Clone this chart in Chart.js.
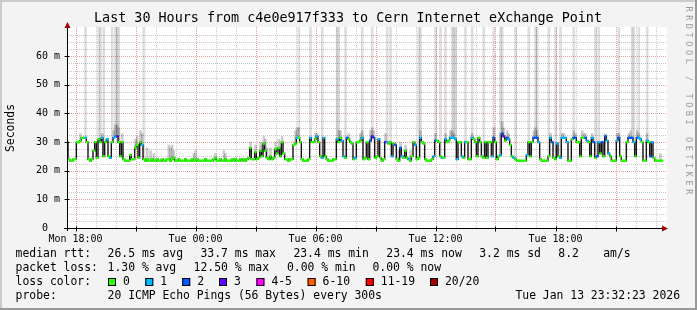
<!DOCTYPE html>
<html>
<head>
<meta charset="utf-8">
<script src="https://cdn.jsdelivr.net/npm/chart.js@4.4.1/dist/chart.umd.min.js"></script>
<style>
  html, body { margin: 0; padding: 0; background: #f3f3f3; }
  canvas { display: block; }
</style>
</head>
<body>
<canvas id="smokeChart" width="697" height="310"></canvas>
<script>
// median rtt (ms) for every 5 minute step, from Mon 17:35 onwards
const median = [
  30,24,23.5,23.5,24,24,30,30,30.5,31.5, 31.5,31.5,30,24,23.5,24,27,30,24.5,31, 30,31.5,25,30,31,25,24.5,30,31.5,32,
  32,30,25,30,24,23.5,23.5,23.5,25.5,24, 24,28,29,24.5,30,29,24,23.5,24,23.5, 23.5,24,23.5,23.5,24,23.5,23.5,24,23.5,23.5,
  24,24,23.5,24,24.5,23.5,23.5,24,23.5,23.5, 23.5,24,23.5,23.5,23.5,24,23.5,23.5,24,23.5, 23.5,23.5,23.5,24,23.5,23.5,23.5,23.5,24,24.5,
  23.5,23.5,24,23.5,23.5,24,23.5,23.5,23.5,24, 23.5,24,23.5,23.5,24,23.5,24,23.5,24,24.5, 28,24,24,26.5,24,24.5,27,25,29.5,27,
  24.5,24,25,24,24.5,27.5,26,28,25,30, 26,24,24,23.5,24,24,29,29.5,31.5,31.5, 30,24,23.5,23.5,23.5,24,31.5,30,30,31,
  32,30,25,24.5,31.5,25,24,23.5,23.5,23.5, 24,24,31,30,31.5,30.5,25,24.5,31.5,31, 30,29.5,24,24.5,30,30,30.5,31.5,24,24.5,
  30,24,30.5,32,31.5,24.5,25,31,24.5,23.5, 24,30,30,29.5,30,25,29.5,29,24,23.5, 28,25,24.5,27,24.5,24,23.5,25,30,29,
  24,24.5,31.5,30,29.5,24,23.5,23.5,23.5,24, 25,30.5,30.5,30,25,24.5,24.5,31,30,30.5, 31.5,31.5,31.5,31,24,30,30,25,24.5,30,
  30,24,24,31.5,31,30,25,31.5,30,25, 24.5,30,24.5,30,30,25,31.5,30,24,25, 25.5,33,32,30.5,31.5,31,29,25,24.5,24,
  23.5,23.5,23.5,23.5,23.5,23.5,25.5,30,25,30, 31.5,31.5,31.5,30,24,23.5,23.5,23.5,23.5,25, 31.5,30,24.5,24,29.5,25,24.5,31.5,31.5,31.5,
  30,23.5,23.5,31,31.5,31.5,30,30,25,31.5, 31.5,31.5,30.5,30,25,31.5,30,24.5,25,30, 26,30,25,32,30.5,26,25,23.5,23.5,23.5,
  30.5,31.5,25,23.5,23.5,23.5,30,31.5,31.5,31.5, 30,25,31.5,31.5,31,30,23.5,23.5,30.5,30, 25,30,24.5,23.5,23.5,23.5,23.5,23.5,null,null
];

// lost pings (of 20) for every step
const lostPings = [
  0,0,0,0,0,0,0,0,0,0, 0,1,0,0,0,0,0,0,0,0, 0,1,0,0,1,0,1,0,1,1,
  3,0,0,0,0,0,0,0,0,0, 0,0,0,0,0,1,0,0,0,0, 0,0,0,0,0,0,0,0,0,0,
  0,0,0,0,0,0,0,0,0,0, 0,0,0,0,0,0,0,0,0,0, 0,0,0,0,0,0,0,0,0,0,
  0,0,0,0,0,0,0,0,0,0, 0,0,0,0,0,0,0,0,0,0, 0,0,0,0,0,0,0,0,0,0,
  0,0,0,0,0,0,0,0,0,0, 0,0,0,0,0,0,0,0,1,0, 0,0,0,0,0,0,1,0,0,0,
  1,0,0,1,1,0,0,0,0,0, 0,0,1,0,0,1,1,0,2,0, 0,0,0,1,0,0,0,1,0,0,
  0,0,2,3,2,0,0,1,0,0, 0,3,1,0,0,1,0,2,0,0, 2,1,0,0,0,1,0,0,0,1,
  0,0,1,0,0,0,0,0,0,0, 1,2,0,0,0,1,0,1,0,0, 1,1,1,1,1,0,0,1,0,1,
  0,0,0,1,0,0,0,0,0,0, 0,0,0,0,0,1,2,0,0,0, 1,2,3,0,2,1,0,0,1,0,
  0,0,0,0,0,0,1,0,0,0, 2,2,2,1,0,0,0,0,0,0, 1,2,0,0,1,0,1,1,1,1,
  1,0,0,0,2,2,0,0,0,0, 0,2,1,0,0,1,2,0,2,1, 0,2,0,2,1,1,0,0,0,0,
  1,2,0,0,0,0,0,2,2,2, 1,0,2,1,1,0,0,0,1,0, 2,1,0,0,0,0,0,0,0,0
];

// steps where single pings went off the scale (light smoke)
const spikeAt = [11,19,20,22,27,29,30,31,46,139,146,153,162,163,167,177,183,192,194,211,212,221,224,227,
  231,232,233,239,243,250,256,260,261,269,277,281,282,289,293,296,304,317,319,331,339,340,343,348];
const spikeTop = [75,75,75,75,75,75,75,75,75,75,75,75,75,75,75,75,75,75,75,75,75,75,75,75,
  75,75,75,75,75,75,75,75,75,75,75,75,75,75,75,75,75,75,75,75,75,75,75,75];

// steps with denser smoke just above the median
const smokeAt = [8,21,28,29,30,31,33,41,42,44,45,48,50,52,61,62,63,64,76,77,89,94,95,110,113,116,117,118,119,
  120,122,125,127,129,137,138,139,149,150,163,164,169,176,177,182,183,184,191,199,200,203,206,212,221,227,230,231,232,
  243,256,260,261,262,264,265,280,281,282,290,297,298,304,305,309,310,311,315,320,323,330,331,337,338,342,343,348,356];
const smokeTop = [33,33,34,36,36,35,33,31,32,34,33,28,27,26,29,28,29,27,26,27,26,27,26,30,29,30,29,32,31,
  28,28,30,31,32,34,35,35,33,33,34,34,33,33,34,34,35,34,33,27,30,29,27,34,33,33,34,34,33,
  33,35,33,37,35,34,33,34,35,34,33,33,33,34,33,34,33,33,33,29,33,33,33,33,34,34,33,33,26];

const tickValues = [1080, 1440, 1800, 2160, 2520];
const tickLabels = ['Mon 18:00', 'Tue 00:00', 'Tue 06:00', 'Tue 12:00', 'Tue 18:00'];
const yTicks = [0, 10, 20, 30, 40, 50, 60];

const lossColors = ['#26ff00', '#00b8ff', '#0059ff', '#5e00ff', '#ff00ff', '#ff5e00', '#ff0000', '#a10000'];
const lossLabels = ['0', '1', '2', '3', '4-5', '6-10', '11-19', '20/20'];

const startMinute = 1055;   // Mon 17:35 in minutes since Mon 00:00
const stepMinutes = 5;

const MONO = 'DejaVu Sans Mono';

function lossBucket(n) {
  if (n <= 3) return n;
  if (n <= 5) return 4;
  if (n <= 10) return 5;
  if (n <= 19) return 6;
  return 7;
}

const times = median.map((_, i) => startMinute + stepMinutes * i);
const medianPoints = median.map((v, i) => ({ x: times[i], y: v }));
const spikeBars = spikeAt.map((idx, k) => ({ x: times[idx], y: [median[idx], spikeTop[k]] }));
const smokeBars = smokeAt.map((idx, k) => ({ x: times[idx], y: [median[idx], smokeTop[k]] }));

// background, frame and dotted grid like rrdtool
const rrdFrame = {
  id: 'rrdFrame',
  beforeDraw(chart) {
    const { ctx, chartArea: a, width, height } = chart;
    ctx.save();
    ctx.fillStyle = '#f3f3f3';
    ctx.fillRect(0, 0, width, height);
    ctx.fillStyle = '#cbcbcb';
    ctx.fillRect(0, 0, width, 2);
    ctx.fillRect(0, 0, 2, height);
    ctx.fillStyle = '#999999';
    ctx.fillRect(width - 2, 0, 2, height);
    ctx.fillRect(0, height - 2, width, 2);
    ctx.fillStyle = '#ffffff';
    ctx.fillRect(a.left, a.top, a.right - a.left, a.bottom - a.top);
    ctx.restore();
  },
  beforeDatasetsDraw(chart) {
    const { ctx, chartArea: a, scales: { x, y } } = chart;
    ctx.save();
    ctx.lineWidth = 1;
    ctx.setLineDash([1, 1]);
    const hline = (v, color) => {
      const py = Math.round(y.getPixelForValue(v)) + 0.5;
      ctx.strokeStyle = color;
      ctx.beginPath(); ctx.moveTo(a.left, py); ctx.lineTo(a.right, py); ctx.stroke();
    };
    const vline = (v, color) => {
      const px = Math.round(x.getPixelForValue(v)) + 0.5;
      ctx.strokeStyle = color;
      ctx.beginPath(); ctx.moveTo(px, a.top); ctx.lineTo(px, a.bottom); ctx.stroke();
    };
    for (let v = 2.5; v < 70; v += 2.5) {
      if (v % 10 !== 0) hline(v, '#c8c8c8');
    }
    for (let m = 1080; m < 2855; m += 60) {
      if (m % 180 !== 0) vline(m, '#c8c8c8');
    }
    for (let v = 10; v < 70; v += 10) hline(v, '#e6a0a0');
    for (let m = 1080; m < 2855; m += 180) vline(m, '#e6a0a0');
    ctx.restore();
  },
  afterDatasetsDraw(chart) {
    const { ctx, chartArea: a, scales: { x, y } } = chart;
    ctx.save();
    ctx.strokeStyle = '#000';
    ctx.lineWidth = 1;
    const bx = a.left + 0.5, by = a.bottom + 0.5;
    ctx.beginPath();
    ctx.moveTo(a.left - 3, by); ctx.lineTo(a.right - 4, by);
    ctx.moveTo(bx, a.bottom + 3); ctx.lineTo(bx, a.top);
    // small ticks at the major grid
    for (let m = 1080; m < 2855; m += 180) {
      const px = Math.round(x.getPixelForValue(m)) + 0.5;
      ctx.moveTo(px, by - 2); ctx.lineTo(px, by + 3);
    }
    for (let v = 10; v < 70; v += 10) {
      const py = Math.round(y.getPixelForValue(v)) + 0.5;
      ctx.moveTo(bx - 3, py); ctx.lineTo(bx + 2, py);
    }
    ctx.stroke();
    ctx.fillStyle = '#a00000';
    ctx.beginPath();
    ctx.moveTo(bx - 3, a.top + 1); ctx.lineTo(bx + 3, a.top + 1); ctx.lineTo(bx, a.top - 5);
    ctx.closePath(); ctx.fill();
    ctx.beginPath();
    ctx.moveTo(a.right - 5, by - 3); ctx.lineTo(a.right - 5, by + 3); ctx.lineTo(a.right + 1, by);
    ctx.closePath(); ctx.fill();
    ctx.restore();
  },
  afterDraw(chart) {
    const { ctx } = chart;
    ctx.save();
    ctx.fillStyle = '#000';
    ctx.textBaseline = 'middle';

    ctx.font = '13.4px "' + MONO + '"';
    ctx.textAlign = 'center';
    ctx.fillText('Last 30 Hours from c4e0e917f333 to Cern Internet eXchange Point', 348, 19);

    ctx.font = '11.4px "' + MONO + '"';
    ctx.save();
    ctx.translate(11, 128);
    ctx.rotate(-Math.PI / 2);
    ctx.fillText('Seconds', 0, 0);
    ctx.restore();

    ctx.textAlign = 'left';
    const rows = [
      [254, [[15.6, 'median rtt:'], [107.6, '26.5 ms avg'], [200.5, '33.7 ms max'], [293.4, '23.4 ms min'],
             [386.3, '23.4 ms now'], [479.2, '3.2 ms sd'], [558.3, '8.2'], [603.2, 'am/s']]],
      [268, [[15.6, 'packet loss:'], [107.6, '1.30 % avg'], [193.6, '12.50 % max'], [287, '0.00 % min'],
             [372.5, '0.00 % now']]],
      [282, [[15.6, 'loss color:']]],
      [296, [[15.6, 'probe:'], [107.6, '20 ICMP Echo Pings (56 Bytes) every 300s']]]
    ];
    rows.forEach(([ty, parts]) => parts.forEach(([tx, s]) => ctx.fillText(s, tx, ty)));

    const boxX = [108, 145.3, 182.2, 219, 256.4, 307.6, 365.8, 430];
    boxX.forEach((bxp, k) => {
      ctx.fillStyle = lossColors[k];
      ctx.fillRect(bxp, 278, 8, 8);
      ctx.strokeStyle = '#000';
      ctx.strokeRect(bxp + 0.5, 278.5, 7, 7);
      ctx.fillStyle = '#000';
      ctx.fillText(lossLabels[k], bxp + 15, 282);
    });

    ctx.textAlign = 'right';
    ctx.fillText('Tue Jan 13 23:32:23 2026', 680, 296);

    // watermark on the right edge
    ctx.fillStyle = '#9a9a9a';
    ctx.font = '8.5px "' + MONO + '"';
    ctx.textAlign = 'center';
    const mark = 'RRDTOOL / TOBI OETIKER';
    for (let k = 0; k < mark.length; k++) {
      ctx.save();
      ctx.translate(688, 9 + k * 8.7);
      ctx.rotate(Math.PI / 2);
      ctx.fillText(mark[k], 0, 0);
      ctx.restore();
    }
    ctx.restore();
  }
};

new Chart(document.getElementById('smokeChart'), {
  type: 'bar',
  data: {
    datasets: [
      {
        type: 'line',
        label: 'loss color',
        data: medianPoints,
        showLine: false,
        pointStyle: 'rect',
        pointRadius: 1.7,
        pointBorderWidth: 0,
        pointBackgroundColor: c => lossColors[lossBucket(lostPings[c.dataIndex])],
        order: 0
      },
      {
        type: 'line',
        label: 'median rtt',
        data: medianPoints,
        stepped: 'middle',
        borderColor: '#141414',
        borderWidth: 1.4,
        pointRadius: 0,
        order: 1
      },
      {
        type: 'bar',
        label: 'smoke',
        data: smokeBars,
        backgroundColor: 'rgba(0,0,0,0.2)',
        barThickness: 2,
        grouped: false,
        order: 2
      },
      {
        type: 'bar',
        label: 'spikes',
        data: spikeBars,
        backgroundColor: 'rgba(0,0,0,0.13)',
        barThickness: 2,
        grouped: false,
        order: 3
      }
    ]
  },
  options: {
    responsive: false,
    animation: false,
    events: [],
    layout: { padding: { left: 0, top: 27, right: 30, bottom: 0 } },
    plugins: {
      legend: { display: false },
      tooltip: { enabled: false },
      title: { display: false }
    },
    scales: {
      x: {
        type: 'linear',
        min: 1054.5,
        max: 2854.5,
        offset: false,
        grid: { display: false, drawTicks: false },
        border: { display: false },
        afterBuildTicks: s => { s.ticks = tickValues.map(v => ({ value: v })); },
        afterFit: s => { s.height = 82; },
        ticks: {
          autoSkip: false,
          maxRotation: 0,
          minRotation: 0,
          padding: 5,
          color: '#000',
          font: { family: MONO, size: 10 },
          callback: v => tickLabels[tickValues.indexOf(v)]
        }
      },
      y: {
        min: 0,
        max: 70.2,
        grid: { display: false, drawTicks: false },
        border: { display: false },
        afterBuildTicks: s => { s.ticks = yTicks.map(v => ({ value: v })); },
        afterFit: s => { s.width = 67; },
        ticks: {
          padding: 7,
          color: '#000',
          font: { family: MONO, size: 10 },
          callback: v => (v === 0 ? '0  ' : v + ' m')
        }
      }
    }
  },
  plugins: [rrdFrame]
});
</script>
</body>
</html>
